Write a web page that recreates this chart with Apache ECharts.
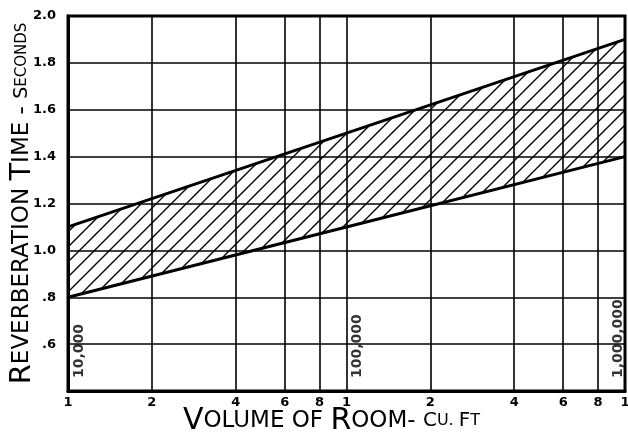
<!DOCTYPE html>
<html>
<head>
<meta charset="utf-8">
<script src="https://cdn.jsdelivr.net/npm/echarts@6/dist/echarts.min.js"></script>
<style>
  html, body { margin: 0; padding: 0; background: #fff; }
  #chart { width: 628px; height: 438px; }
</style>
</head>
<body>
<div id="chart"></div>
<script>
// room volume (cu. ft) and reverberation time band
var volumes = [10000, 100000, 1000000];
var upperTimes = [1.1, 1.5, 1.9];
var lowerTimes = [0.8, 1.1, 1.4];

// x ticks (log scale) and their labels
var tickVolumes = [10000, 20000, 40000, 60000, 80000, 100000, 200000, 400000, 600000, 800000, 1000000];
var tickLabels = ['1', '2', '4', '6', '8', '1', '2', '4', '6', '8', '1'];

// y ticks
var yTicks = [0.6, 0.8, 1.0, 1.2, 1.4, 1.6, 1.8, 2.0];
var yTickLabels = ['.6', '.8', '1.0', '1.2', '1.4', '1.6', '1.8', '2.0'];

// decade markers written inside the plot
var decadeVolumes = [10000, 100000, 1000000];
var decadeLabels = ['10,000', '100,000', '1,000,000'];

var lg = function (v) { return Math.log10(v); };
var tickPos = tickVolumes.map(lg);

// hatch pattern for the band
function makeHatch() {
  var s = 15;
  var c = document.createElement('canvas');
  c.width = s; c.height = s;
  var ctx = c.getContext('2d');
  ctx.strokeStyle = '#000';
  ctx.lineWidth = 1.4;
  ctx.beginPath();
  ctx.moveTo(0, s); ctx.lineTo(s, 0);
  ctx.moveTo(-2, 2); ctx.lineTo(2, -2);
  ctx.moveTo(s - 2, s + 2); ctx.lineTo(s + 2, s - 2);
  ctx.stroke();
  return c;
}
var hatch = makeHatch();

var chart = echarts.init(document.getElementById('chart'));

var lowerData = volumes.map(function (v, i) { return [lg(v), lowerTimes[i]]; });
var upperData = volumes.map(function (v, i) { return [lg(v), upperTimes[i]]; });
var bandData = volumes.map(function (v, i) { return [lg(v), lowerTimes[i], upperTimes[i]]; });
var decadeData = decadeVolumes.map(function (v, i) {
  return {
    value: [lg(v), 0.4],
    name: decadeLabels[i],
    // rotated label: offset[0] runs up the text, offset[1] runs to the right
    label: { offset: i === decadeVolumes.length - 1 ? [13, -7] : [13, 11] }
  };
});

var font = 'DejaVu Sans';

var option = {
  animation: false,
  backgroundColor: '#fff',
  grid: {
    left: 68, right: 3, top: 16, bottom: 47,
    outerBoundsMode: 'none',
    containLabel: false,
    show: true, borderColor: '#000', borderWidth: 3
  },
  xAxis: {
    type: 'value',
    min: 4, max: 6,
    name: '{b|V}{m|OLUME OF }{b|R}{m|OOM- }{s|C}{xs|U. }{s|F}{xs|T}',
    nameLocation: 'middle',
    nameGap: 15,
    nameMoveOverlap: false,
    nameTextStyle: {
      padding: [0, 30, 0, 0],
      rich: {
        b: { fontFamily: font, fontSize: 30, color: '#000' },
        m: { fontFamily: font, fontSize: 23, color: '#000' },
        s: { fontFamily: font, fontSize: 20, color: '#000' },
        xs: { fontFamily: font, fontSize: 16, color: '#000' }
      }
    },
    axisLine: { show: true, lineStyle: { color: '#000', width: 3 } },
    axisTick: { show: false, customValues: tickPos },
    axisLabel: {
      customValues: tickPos,
      margin: 5,
      color: '#000',
      fontFamily: font,
      fontWeight: 'bold',
      fontSize: 13,
      formatter: function (v) {
        for (var i = 0; i < tickPos.length; i++) {
          if (Math.abs(tickPos[i] - v) < 1e-6) return tickLabels[i];
        }
        return '';
      }
    },
    splitLine: { show: true, lineStyle: { color: '#000', width: 1.6 } }
  },
  yAxis: {
    type: 'value',
    min: 0.4, max: 2.0, interval: 0.2,
    name: '{b|R}{m|EVERBERATION }{b|T}{m|IME - }{s|S}{xs|ECONDS}',
    nameLocation: 'middle',
    nameGap: 31,
    nameMoveOverlap: false,
    nameTextStyle: {
      rich: {
        b: { fontFamily: font, fontSize: 29, color: '#000' },
        m: { fontFamily: font, fontSize: 23, color: '#000' },
        s: { fontFamily: font, fontSize: 19, color: '#000' },
        xs: { fontFamily: font, fontSize: 15, color: '#000' }
      }
    },
    axisLine: { show: true, lineStyle: { color: '#000', width: 3 } },
    axisTick: { show: false },
    axisLabel: {
      margin: 12,
      color: '#000',
      fontFamily: font,
      fontWeight: 'bold',
      fontSize: 13,
      formatter: function (v) {
        for (var i = 0; i < yTicks.length; i++) {
          if (Math.abs(yTicks[i] - v) < 1e-6) return yTickLabels[i];
        }
        return '';
      }
    },
    splitLine: { show: true, lineStyle: { color: '#000', width: 1.6 } }
  },
  series: [
    {
      name: 'band',
      type: 'custom',
      data: bandData,
      silent: true,
      renderItem: function (params, api) {
        if (params.dataIndex !== 0) return;
        var pts = [];
        var i;
        for (i = 0; i < bandData.length; i++) pts.push(api.coord([bandData[i][0], bandData[i][2]]));
        for (i = bandData.length - 1; i >= 0; i--) pts.push(api.coord([bandData[i][0], bandData[i][1]]));
        return {
          type: 'polygon',
          shape: { points: pts },
          style: { fill: { image: hatch, repeat: 'repeat' }, stroke: null }
        };
      },
      z: 3
    },
    {
      name: 'lower',
      type: 'line',
      data: lowerData,
      symbol: 'none',
      lineStyle: { color: '#000', width: 3 },
      z: 5
    },
    {
      name: 'upper',
      type: 'line',
      data: upperData,
      symbol: 'none',
      lineStyle: { color: '#000', width: 3 },
      z: 5
    },
    {
      name: 'decades',
      type: 'scatter',
      data: decadeData,
      symbolSize: 0,
      silent: true,
      clip: false,
      label: {
        show: true,
        formatter: '{b}',
        rotate: 90,
        position: 'inside',
        align: 'left',
        verticalAlign: 'middle',
        color: '#000',
        fontFamily: font,
        fontWeight: 'bold',
        fontSize: 14
      },
      z: 6
    }
  ]
};

chart.setOption(option);
</script>
</body>
</html>
